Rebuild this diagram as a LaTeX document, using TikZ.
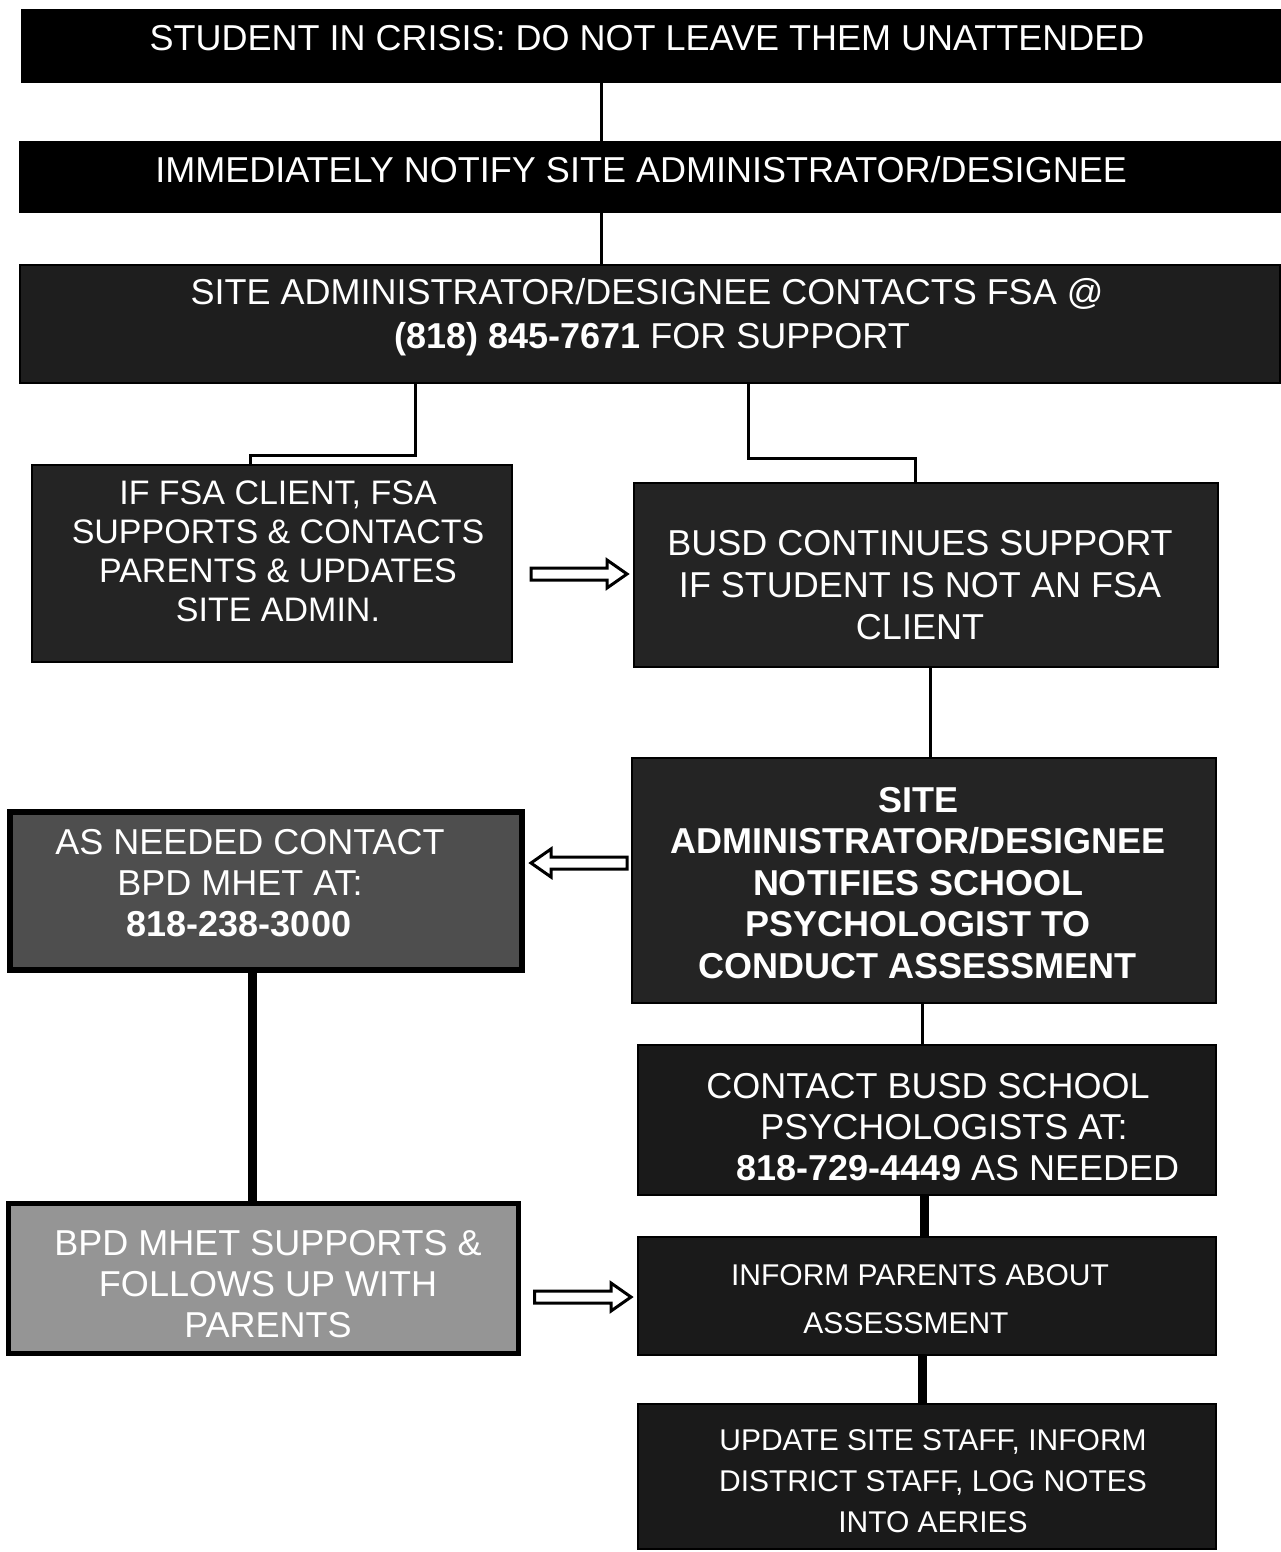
\documentclass[tikz,border=0pt]{standalone}
\usepackage{fontspec}
\setmainfont{Liberation Sans}
\usetikzlibrary{calc}
\definecolor{boxA}{HTML}{000000}
\definecolor{boxB}{HTML}{1E1E1E}
\definecolor{boxC}{HTML}{242424}
\definecolor{boxD}{HTML}{4E4E4E}
\definecolor{boxE}{HTML}{959595}
\definecolor{boxF}{HTML}{1A1A1A}
\tikzset{
  box/.style={draw=black, line width=2pt, inner sep=0pt},
  txt/.style={text=white, align=center, inner sep=0pt, font=\fontsize{36}{41}\selectfont},
  thin link/.style={draw=black, line width=3pt},
  thick link/.style={draw=black, line width=9pt},
  hollow/.style={draw=black, fill=white, line width=3pt, line join=miter},
}
% #1 start coordinate, #2 end coordinate, #3 direction (1 right, -1 left)
\newcommand\blockarrow[3]{%
  \draw[hollow] ($(#1)+(0,-6)$) -- ($(#2)+({-20*#3},-6)$) -- ($(#2)+({-20*#3},-14)$) --
    (#2) -- ($(#2)+({-20*#3},14)$) -- ($(#2)+({-20*#3},6)$) -- ($(#1)+(0,6)$) -- cycle;}
\begin{document}
\begin{tikzpicture}[x=1pt,y=-1pt]
\useasboundingbox (0,0) rectangle (1280,1552);
% boxes
\node[box, fill=boxA, minimum width=1258pt, minimum height=72pt] (b1) at (651,46) {};
\node[box, fill=boxA, minimum width=1260pt, minimum height=70pt] (b2) at (650,177) {};
\node[box, fill=boxB, minimum width=1260pt, minimum height=118pt] (b3) at (650,324) {};
\node[box, fill=boxC, minimum width=480pt, minimum height=197pt] (b4) at (272,563) {};
\node[box, fill=boxC, minimum width=584pt, minimum height=184pt] (b5) at (926,575) {};
\node[box, fill=boxC, minimum width=584pt, minimum height=245pt] (b6) at (924,880) {};
\node[box, fill=boxD, line width=6pt, minimum width=512pt, minimum height=158pt] (b7) at (266,891) {};
\node[box, fill=boxE, line width=5pt, minimum width=510pt, minimum height=150pt] (b8) at (263,1278) {};
\node[box, fill=boxF, minimum width=578pt, minimum height=150pt] (b9) at (927,1120) {};
\node[box, fill=boxF, minimum width=578pt, minimum height=118pt] (b10) at (927,1296) {};
\node[box, fill=boxF, minimum width=578pt, minimum height=145pt] (b11) at (927,1476) {};
% texts
\node[txt] (t1) at (647,38) {STUDENT IN CRISIS: DO NOT LEAVE THEM UNATTENDED};
\node[txt] (t2) at (641,170) {IMMEDIATELY NOTIFY SITE ADMINISTRATOR/DESIGNEE};
\node[txt, font=\fontsize{36}{44}\selectfont] (t3) at (647,317)
  {SITE ADMINISTRATOR/DESIGNEE CONTACTS FSA @\\\hspace*{10pt}\textbf{(818) 845-7671} FOR SUPPORT};
\node[txt, font=\fontsize{34}{39}\selectfont] (t4) at (278,551)
  {IF FSA CLIENT, FSA\\SUPPORTS \& CONTACTS\\PARENTS \& UPDATES\\SITE ADMIN.};
\node[txt, font=\fontsize{36}{42}\selectfont] (t5) at (920,585)
  {BUSD CONTINUES SUPPORT\\IF STUDENT IS NOT AN FSA\\CLIENT};
\node[txt, font=\bfseries\fontsize{36}{41.5}\selectfont] (t6) at (918,883)
  {SITE\\ADMINISTRATOR/DESIGNEE\\NOTIFIES SCHOOL\\PSYCHOLOGIST TO\\CONDUCT ASSESSMENT};
\node[txt] (t7) at (245,883)
  {\hspace*{10pt}AS NEEDED CONTACT\\\hspace*{-10pt}BPD MHET AT:\\\hspace*{-12pt}\textbf{818-238-3000}};
\node[txt] (t8) at (268,1284) {BPD MHET SUPPORTS \&\\FOLLOWS UP WITH\\PARENTS};
\node[txt] (t9) at (943,1127)
  {\hspace*{-30pt}CONTACT BUSD SCHOOL\\\hspace*{2pt}PSYCHOLOGISTS AT:\\\hspace*{30pt}\textbf{818-729-4449} AS NEEDED};
\node[txt, font=\fontsize{30}{48}\selectfont] (t10) at (913,1299)
  {\hspace*{14pt}INFORM PARENTS ABOUT\\\hspace*{-14pt}ASSESSMENT};
\node[txt, font=\fontsize{30}{41}\selectfont] (t11) at (933,1481)
  {UPDATE SITE STAFF, INFORM\\DISTRICT STAFF, LOG NOTES\\INTO AERIES};
% helper coordinates
\coordinate (j1) at (415,455);
\coordinate (j2) at (748,458);
\coordinate (a1) at (0,574);
\coordinate (a2) at (0,863);
\coordinate (a3) at (0,1297);
% connectors
\draw[thin link] ([xshift=-50pt]b1.south) -- ([xshift=-50pt]b1.south |- b2.north);
\draw[thin link] ([xshift=-49pt]b2.south) -- ([xshift=-49pt]b2.south |- b3.north);
\draw[thin link] (b3.south -| j1) -- (j1) -| ([xshift=-22pt]b4.north);
\draw[thin link] (b3.south -| j2) -- (j2) -| ([xshift=-11pt]b5.north);
\draw[thin link] ([xshift=4pt]b5.south) -- ([xshift=4pt]b5.south |- b6.north);
\draw[thin link] ([xshift=-2pt]b6.south) -- ([xshift=-2pt]b6.south |- b9.north);
\draw[thick link] ([xshift=-14pt]b7.south) -- ([xshift=-14pt]b7.south |- b8.north);
\draw[thick link] ([xshift=-3pt]b9.south) -- ([xshift=-3pt]b9.south |- b10.north);
\draw[thick link] ([xshift=-5pt]b10.south) -- ([xshift=-5pt]b10.south |- b11.north);
% hollow arrows
\coordinate (s1) at ($(b4.east |- a1)+(18,0)$);
\coordinate (e1) at ($(b5.west |- a1)+(-6,0)$);
\coordinate (s2) at ($(b6.west |- a2)+(-4,0)$);
\coordinate (e2) at ($(b7.east |- a2)+(6,0)$);
\coordinate (s3) at ($(b8.east |- a3)+(14,0)$);
\coordinate (e3) at ($(b10.west |- a3)+(-6,0)$);
\blockarrow{s1}{e1}{1}
\blockarrow{s2}{e2}{-1}
\blockarrow{s3}{e3}{1}
\end{tikzpicture}
\end{document}
